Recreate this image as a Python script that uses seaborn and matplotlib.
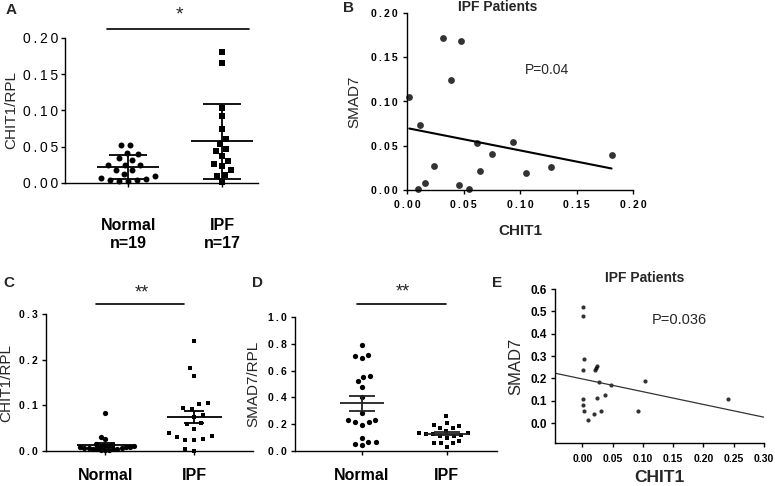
import numpy as np
import pandas as pd
import matplotlib
matplotlib.use("Agg")
import matplotlib.pyplot as plt
import seaborn as sns
from matplotlib.ticker import FuncFormatter, MultipleLocator

# ---------------- data ----------------
groups = ["Normal", "IPF"]

# Panel A: CHIT1/RPL (mean +/- SD)
a_normal = [0.0529, 0.0529, 0.0405, 0.0418, 0.0320, 0.0345, 0.0244, 0.0253, 0.0253,
            0.0184, 0.0184, 0.0097, 0.0129, 0.0060, 0.0074, 0.0037, 0.0028, 0.0023, 0.0046]
a_ipf = [0.1798, 0.1646, 0.1039, 0.0924, 0.0745, 0.0607, 0.0533, 0.0464, 0.0437,
         0.0372, 0.0303, 0.0234, 0.0257, 0.0184, 0.0106, 0.0092, 0.0009]
a_labels = ["Normal\nn=19", "IPF\nn=17"]

# Panel B: IPF patients, CHIT1 vs SMAD7
b_chit1 = [0.002, 0.032, 0.048, 0.039, 0.0118, 0.0617, 0.0935, 0.075, 0.181,
           0.0242, 0.065, 0.105, 0.127, 0.016, 0.010, 0.046, 0.055]
b_smad7 = [0.105, 0.172, 0.168, 0.124, 0.073, 0.053, 0.0546, 0.041, 0.0396,
           0.0275, 0.021, 0.019, 0.026, 0.0075, 0.0015, 0.0056, 0.001]
b_pval = "P=0.04"

# Panel C: CHIT1/RPL (mean +/- SEM)
c_normal = [0.0826, 0.0307, 0.0270, 0.015, 0.013, 0.012, 0.011, 0.010, 0.010, 0.009,
            0.008, 0.008, 0.007, 0.006, 0.006, 0.005, 0.005, 0.004, 0.004, 0.003,
            0.003, 0.002]
c_ipf = [0.2412, 0.1813, 0.1645, 0.1038, 0.1060, 0.0928, 0.0950, 0.0789, 0.0746, 0.0607,
         0.0599, 0.0475, 0.0387, 0.0307, 0.0322, 0.0249, 0.0234, 0.0263, 0.0007, 0.0051]
cd_labels = ["Normal", "IPF"]

# Panel D: SMAD7/RPL (mean +/- SEM)
d_normal = [0.791, 0.716, 0.692, 0.706, 0.562, 0.552, 0.520, 0.480, 0.403, 0.284,
            0.229, 0.214, 0.196, 0.214, 0.234, 0.097, 0.065, 0.042, 0.050, 0.065]
d_ipf = [0.259, 0.209, 0.194, 0.184, 0.172, 0.172, 0.150, 0.134, 0.134, 0.127,
         0.127, 0.122, 0.114, 0.110, 0.100, 0.072, 0.060, 0.060, 0.060, 0.030]

# Panel E: IPF patients, CHIT1 vs SMAD7
e_chit1 = [0.0006, 0.0006, 0.003, 0.0006, 0.021, 0.023, 0.025, 0.027, 0.047, 0.103,
           0.240, 0.0006, 0.0006, 0.003, 0.024, 0.038, 0.031, 0.020, 0.009, 0.092]
e_smad7 = [0.521, 0.481, 0.285, 0.237, 0.237, 0.245, 0.255, 0.183, 0.169, 0.188,
           0.107, 0.106, 0.081, 0.055, 0.113, 0.124, 0.055, 0.043, 0.012, 0.055]
e_pval = "P=0.036"

# ---------------- style ----------------
sns.set_style("ticks")
plt.rcParams["font.family"] = ["Liberation Sans", "DejaVu Sans"]
plt.rcParams["axes.linewidth"] = 1.0
plt.rcParams["axes.edgecolor"] = "black"
plt.rcParams["xtick.color"] = "black"
plt.rcParams["ytick.color"] = "black"

W, H = 775, 486
fig = plt.figure(figsize=(W / 100, H / 100), dpi=100)

swarms = []  # (collection, final marker size)


def box(l, t, r, b):
    return [l / W, 1 - b / H, (r - l) / W, (b - t) / H]


def spaced(fmt):
    return FuncFormatter(lambda v, p: "\u2009".join(format(v, fmt)))


def base_axes(ax):
    sns.despine(ax=ax)
    ax.tick_params(direction="out", length=3, width=1.0)


def dot_panel(ax, normal, ipf, err, msize, spreads, mean_hw, cap_hw, lcolor="black"):
    for grp, vals, mk, sz, spread in [("Normal", normal, "o", msize, spreads[0]),
                                      ("IPF", ipf, "s", msize * 0.85, spreads[1])]:
        n_before = len(ax.collections)
        df = pd.DataFrame({"group": grp, "value": vals})
        sns.swarmplot(data=df, x="group", y="value", order=groups, marker=mk,
                      color="black", size=sz * spread, ax=ax, zorder=2, warn_thresh=1.0)
        for c in ax.collections[n_before:]:
            c.set_clip_on(False)
            swarms.append((c, sz))
    for pos, vals in enumerate([normal, ipf]):
        v = np.asarray(vals)
        m = v.mean()
        s = v.std(ddof=1)
        if err == "sem":
            s = s / np.sqrt(len(v))
        ax.hlines(m, pos - mean_hw, pos + mean_hw, color=lcolor, lw=1.3, zorder=3)
        ax.hlines([m - s, m + s], pos - cap_hw, pos + cap_hw, color=lcolor, lw=1.3, zorder=3)
        ax.vlines(pos, m - s, m + s, color=lcolor, lw=1.3, zorder=3)
    ax.set_xlabel("")


def sig(ax, x0, x1, y, ystar, text, fs):
    ax.plot([x0, x1], [y, y], color="black", lw=1.2, clip_on=False)
    ax.text((x0 + x1) / 2 + 0.02, ystar, text, ha="center", va="center",
            fontsize=fs, clip_on=False)


# ---------------- Panel A ----------------
axA = fig.add_axes(box(65, 37.7, 258, 183))
dot_panel(axA, a_normal, a_ipf, "sd", 4.3, (1.45, 1.5), 0.33, 0.2)
axA.set_xlim(-0.67, 1.38)
axA.set_ylim(0, 0.2)
axA.yaxis.set_major_locator(MultipleLocator(0.05))
axA.yaxis.set_major_formatter(spaced(".2f"))
base_axes(axA)
axA.tick_params(axis="y", labelsize=10, pad=2)
axA.set_xticks([0, 1])
axA.set_xticklabels(a_labels, fontsize=11.5, fontweight="bold", linespacing=1.3)
axA.tick_params(axis="x", pad=22)
axA.set_ylabel("CHIT1/RPL", fontsize=11, labelpad=3)
sig(axA, -0.22, 1.28, 0.212, 0.231, "*", 14)

# ---------------- Panel B ----------------
axB = fig.add_axes(box(407, 13, 633, 190))
sns.regplot(x=b_chit1, y=b_smad7, ax=axB, ci=None, truncate=True,
            scatter_kws=dict(s=24, color="black", clip_on=False, linewidths=0),
            line_kws=dict(color="black", lw=1.5))
axB.set_xlim(0, 0.2)
axB.set_ylim(0, 0.2)
axB.xaxis.set_major_locator(MultipleLocator(0.05))
axB.yaxis.set_major_locator(MultipleLocator(0.05))
axB.xaxis.set_major_formatter(spaced(".2f"))
axB.yaxis.set_major_formatter(spaced(".2f"))
base_axes(axB)
for lab in axB.get_xticklabels() + axB.get_yticklabels():
    lab.set_fontweight("bold")
axB.tick_params(labelsize=7.5, pad=4)
axB.set_xlabel("CHIT1", fontsize=11, fontweight="bold", labelpad=10)
axB.set_ylabel("SMAD7", fontsize=11, labelpad=7)
axB.text(0.40, 1.0 + 6 / 177, "IPF Patients", transform=axB.transAxes,
         ha="center", va="center", fontsize=10, fontweight="bold")
axB.text(0.104, 0.136, b_pval, fontsize=10, va="center")

# ---------------- Panel C ----------------
axC = fig.add_axes(box(46, 314, 253, 451))
dot_panel(axC, c_normal, c_ipf, "sem", 3.8, (0.75, 1.9), 0.31, 0.11)
axC.set_xlim(-0.663, 1.66)
axC.set_ylim(0, 0.3)
axC.yaxis.set_major_locator(MultipleLocator(0.1))
axC.yaxis.set_major_formatter(spaced(".1f"))
base_axes(axC)
axC.set_xticks([0, 1])
axC.set_xticklabels(cd_labels, fontsize=11.5, fontweight="bold")
for lab in axC.get_yticklabels():
    lab.set_fontweight("bold")
axC.tick_params(axis="y", labelsize=7.5, pad=3)
axC.tick_params(axis="x", pad=9)
axC.set_ylabel("CHIT1/RPL", fontsize=11, labelpad=4)
sig(axC, -0.1, 0.89, 0.322, 0.347, "**", 13)

# ---------------- Panel D ----------------
axD = fig.add_axes(box(295, 317, 497, 451))
dot_panel(axD, d_normal, d_ipf, "sem", 3.8, (1.3, 1.5), 0.26, 0.157, lcolor="#222222")
axD.set_xlim(-0.79, 1.59)
axD.set_ylim(0, 1.0)
axD.yaxis.set_major_locator(MultipleLocator(0.2))
axD.yaxis.set_major_formatter(spaced(".1f"))
base_axes(axD)
axD.set_xticks([0, 1])
axD.set_xticklabels(cd_labels, fontsize=11.5, fontweight="bold")
for lab in axD.get_yticklabels():
    lab.set_fontweight("bold")
axD.tick_params(axis="y", labelsize=7.5, pad=3)
axD.tick_params(axis="x", pad=9)
axD.set_ylabel("SMAD7/RPL", fontsize=11, labelpad=5)
sig(axD, -0.06, 0.99, 1.097, 1.185, "**", 13)

# ---------------- Panel E ----------------
axE = fig.add_axes(box(555, 289, 764, 443.3))
axE.set_xlim(-0.045, 0.30)
axE.set_ylim(-0.09, 0.6)
sns.regplot(x=e_chit1, y=e_smad7, ax=axE, ci=None, truncate=False,
            scatter_kws=dict(s=9, color="black", clip_on=False, linewidths=0),
            line_kws=dict(color="#333333", lw=0.9))
axE.set_xlim(-0.045, 0.30)
axE.set_ylim(-0.09, 0.6)
axE.set_xticks(np.arange(0, 0.301, 0.05))
axE.set_yticks(np.arange(0, 0.601, 0.1))
axE.xaxis.set_major_formatter(FuncFormatter(lambda v, p: f"{v:.2f}"))
axE.yaxis.set_major_formatter(FuncFormatter(lambda v, p: f"{v:.1f}"))
base_axes(axE)
for lab in axE.get_xticklabels() + axE.get_yticklabels():
    lab.set_fontweight("bold")
axE.tick_params(axis="x", labelsize=7.5, pad=5)
axE.tick_params(axis="y", labelsize=8.5, pad=3)
axE.set_xlabel("CHIT1", fontsize=12.5, fontweight="bold", labelpad=4)
axE.set_ylabel("SMAD7", fontsize=12, labelpad=5)
axE.text(0.43, 1.0 + 11 / 154, "IPF Patients", transform=axE.transAxes,
         ha="center", va="center", fontsize=10, fontweight="bold")
axE.text(0.114, 0.461, e_pval, fontsize=10.5, va="center")

# ---------------- panel letters ----------------
for letter, x, y in [("A", 6, 10), ("B", 343, 8), ("C", 3, 283), ("D", 252, 283), ("E", 492, 283)]:
    fig.text(x / W, 1 - y / H, letter, fontsize=11, fontweight="bold", va="center", ha="left")

# lay out swarms with widened spacing, then freeze positions and shrink markers
fig.canvas.draw()
for coll, sz in swarms:
    if "draw" in coll.__dict__:
        del coll.draw
    coll.set_sizes([sz ** 2])

fig.savefig("out.png", dpi=100)
